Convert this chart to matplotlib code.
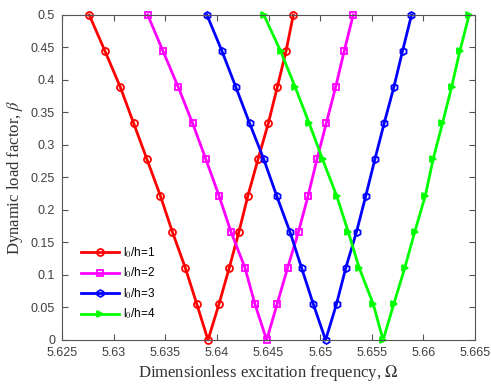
import numpy as np
import matplotlib
matplotlib.use('Agg')
import matplotlib.pyplot as plt

# load factor levels (shared by all curves), from 0 up to 0.5
beta = np.arange(10) / 18.0

# left / right branch of each instability region (Omega at each beta level)
red_left = [5.63914, 5.63805, 5.63694, 5.63568, 5.63452, 5.63323, 5.63194, 5.63065, 5.62916, 5.62764]
red_right = [5.64021, 5.64120, 5.64214, 5.64301, 5.64398, 5.64498, 5.64585, 5.64670, 5.64740]
mag_left = [5.64482, 5.64368, 5.64272, 5.64136, 5.64020, 5.63894, 5.63765, 5.63626, 5.63478, 5.63330]
mag_right = [5.64584, 5.64685, 5.64791, 5.64884, 5.64969, 5.65059, 5.65150, 5.65233, 5.65320]
blue_left = [5.65053, 5.64933, 5.64820, 5.64707, 5.64578, 5.64455, 5.64317, 5.64184, 5.64049, 5.63904]
blue_right = [5.65159, 5.65249, 5.65353, 5.65443, 5.65530, 5.65620, 5.65714, 5.65798, 5.65885]
green_left = [5.65610, 5.65514, 5.65378, 5.65272, 5.65159, 5.65024, 5.64894, 5.64759, 5.64617, 5.64455]
green_right = [5.65714, 5.65820, 5.65917, 5.66019, 5.66094, 5.66185, 5.66273, 5.66353, 5.66443]

labels = ['l$_0$/h=1', 'l$_0$/h=2', 'l$_0$/h=3', 'l$_0$/h=4']


def branch(left, right):
    # go from the top of the left branch down to zero and back up the right one
    xs = list(left[::-1]) + list(right)
    ys = list(beta[::-1]) + list(beta[1:])
    return xs, ys


curves = [branch(red_left, red_right), branch(mag_left, mag_right),
          branch(blue_left, blue_right), branch(green_left, green_right)]
colors = ['#ff0000', '#ff00ff', '#0000ff', '#00ff00']
markers = ['o', 's', 'h', '>']
faces = ['none', 'none', 'none', '#00ff00']

plt.rcParams['font.family'] = ['Liberation Sans', 'DejaVu Sans']
plt.rcParams['mathtext.fontset'] = 'stix'

fig = plt.figure(figsize=(4.91, 3.85), dpi=100)
ax = fig.add_axes([0.1263, 0.1169, 0.8411, 0.8442])

for (xs, ys), c, m, fc, lab in zip(curves, colors, markers, faces, labels):
    ax.plot(xs, ys, color=c, lw=2, marker=m, ms=5, mfc=fc, mec=c, mew=1.3,
            label=lab, clip_on=False)

ax.set_xlim(5.625, 5.665)
ax.set_ylim(0, 0.5)
ax.set_xticks(np.arange(5.625, 5.6651, 0.005))
ax.set_xticklabels(['5.625', '5.63', '5.635', '5.64', '5.645', '5.65', '5.655', '5.66', '5.665'])
ax.set_yticks(np.arange(0, 0.501, 0.05))
ax.set_yticklabels(['0', '0.05', '0.1', '0.15', '0.2', '0.25', '0.3', '0.35', '0.4', '0.45', '0.5'])

gray = '#555555'
for s in ax.spines.values():
    s.set_color(gray)
    s.set_linewidth(0.8)
ax.tick_params(direction='in', top=True, right=True, length=4, width=0.8,
               colors=gray, labelsize=9, labelcolor='#404040')
ax.tick_params(axis='x', pad=5)
ax.tick_params(axis='y', pad=5)

ax.set_xlabel(r'Dimensionless excitation frequency, $\Omega$', family='Liberation Serif',
              fontsize=12, color='#333333', labelpad=3)
ax.set_ylabel(r'Dynamic load factor, $\beta$', family='Liberation Serif',
              fontsize=12, color='#333333', labelpad=4)

ax.legend(loc='lower left', bbox_to_anchor=(0.02, 0.025), frameon=False, fontsize=8.5,
          handlelength=3.2, labelspacing=0.5, handletextpad=0.4)

fig.savefig('out.png', dpi=100)
